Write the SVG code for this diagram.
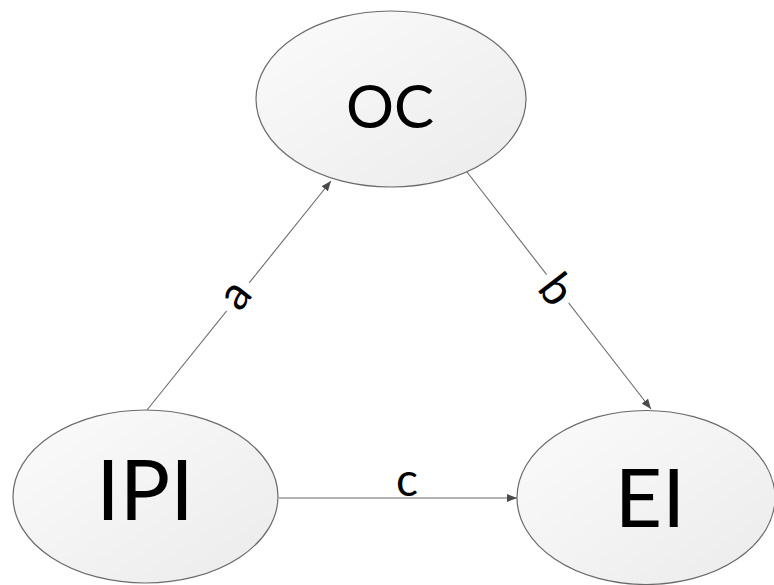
<svg xmlns="http://www.w3.org/2000/svg" width="774" height="585" viewBox="0 0 774 585">
  <defs>
    <linearGradient id="nodeFill" x1="0" y1="0" x2="1" y2="1">
      <stop offset="0" stop-color="#fbfbfb"/>
      <stop offset="1" stop-color="#ebebeb"/>
    </linearGradient>
    <marker id="arrow" viewBox="0 0 10 8" refX="10" refY="4" markerWidth="10" markerHeight="8" markerUnits="userSpaceOnUse" orient="auto">
      <path d="M0,0 L10,4 L0,8 Z" fill="#4a4a4a"/>
    </marker>
    <style>
      .node ellipse { fill: url(#nodeFill); stroke: #6a6a6a; stroke-width: 1.2; }
      .node text { font-family: Lato, "Open Sans", sans-serif; fill: #000; text-anchor: middle; }
      .edge { stroke: #6a6a6a; stroke-width: 1.1; fill: none; marker-end: url(#arrow); }
      .lbl { font-family: Lato, "Open Sans", sans-serif; font-size: 46px; fill: #000; text-anchor: middle; }
      .lblbg { fill: #ffffff; }
    </style>
  </defs>

  <rect width="774" height="585" fill="#ffffff"/>

  <!-- connectors -->
  <g id="connectors">
    <line class="edge" x1="147" y1="410" x2="331" y2="181"/>
    <line class="edge" x1="467" y1="172" x2="651" y2="409"/>
    <line class="edge" x1="279" y1="498" x2="517" y2="498"/>

    <g id="label-a" transform="translate(238,297) rotate(-51.5)">
      <rect class="lblbg" x="-18" y="-15" width="36" height="30"/>
      <text class="lbl" x="0" y="11">a</text>
    </g>
    <g id="label-b" transform="translate(556,290) rotate(52.2)">
      <rect class="lblbg" x="-18" y="-17" width="36" height="34"/>
      <text class="lbl" x="0" y="15">b</text>
    </g>
    <g id="label-c">
      <text class="lbl" x="407" y="496">c</text>
    </g>
  </g>

  <!-- nodes -->
  <g id="node-OC" class="node">
    <ellipse cx="391" cy="99" rx="135" ry="88"/>
    <text x="390" y="128" font-size="60">OC</text>
  </g>
  <g id="node-IPI" class="node">
    <ellipse cx="145.5" cy="496.5" rx="132.5" ry="86.5"/>
    <text x="145" y="520" font-size="84">IPI</text>
  </g>
  <g id="node-EI" class="node">
    <ellipse cx="646" cy="497.5" rx="129" ry="87"/>
    <text x="650" y="527" font-size="82">EI</text>
  </g>
</svg>
